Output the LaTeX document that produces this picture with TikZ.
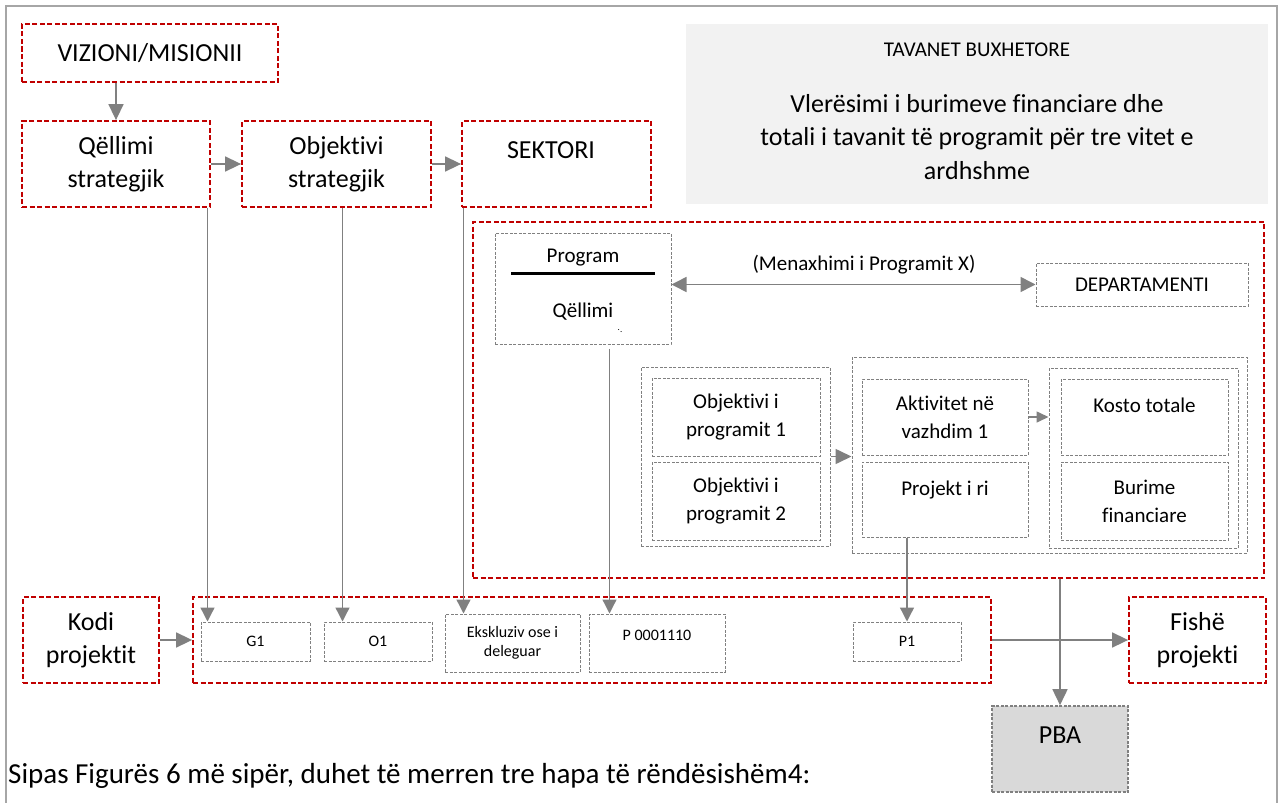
\documentclass[tikz,border=0pt]{standalone}
\usepackage{fontspec}
\setmainfont{Carlito}[Ligatures={NoCommon}]
\usepackage{xcolor}
\usetikzlibrary{positioning, arrows.meta, calc}

\definecolor{kuq}{HTML}{C00000}
\definecolor{gri}{HTML}{808080}
\definecolor{korniza}{HTML}{A6A6A6}
\definecolor{tavan}{HTML}{F2F2F2}
\definecolor{pbangjyre}{HTML}{D9D9D9}

\tikzset{
  kuqbox/.style={draw=kuq, line width=1.8pt, dash pattern=on 5pt off 2.5pt, inner sep=0pt, align=center, font=\fontsize{26}{33}\selectfont},
  gribox/.style={draw=gri, line width=1pt, dash pattern=on 3pt off 1.5pt, inner sep=0pt, align=center, font=\fontsize{21}{28}\selectfont},
  tekst/.style={inner sep=0pt, align=center, font=\fontsize{21}{28}\selectfont},
  madh/.style={font=\fontsize{26}{33.5}\selectfont},
  vogel/.style={font=\fontsize{16}{19}\selectfont},
  shig/.style={draw=gri, line width=1.6pt, -{Triangle[length=16pt,width=15pt]}},
  vije/.style={draw=gri, line width=1.3pt, -{Triangle[length=14pt,width=14pt]}},
}

\begin{document}
\begin{tikzpicture}[x=1pt, y=-1pt]
    \useasboundingbox (0,0) rectangle (1283,803);
    \draw[korniza, line width=2pt] (6,803) -- (6,6) -- (1277,6) -- (1277,803);

    \node[kuqbox, minimum width=256, minimum height=58] (vizioni) at (150,53) {VIZIONI/MISIONII};
    \node[kuqbox, minimum width=188, minimum height=86] (qellimi) at (116,164) {Qëllimi\\strategjik};
    \node[kuqbox, minimum width=189, minimum height=86] (objstr) at (336.5,164) {Objektivi\\strategjik};
    \node[kuqbox, minimum width=189, minimum height=86] (sektori) at (556.5,164) {};
    \node[tekst, madh] (sektorit) at (551,150) {SEKTORI};

    \node[fill=tavan, minimum width=582, minimum height=180] (tavanet) at (977,114) {};
    \node[tekst] (tavanett) at (977,50) {TAVANET BUXHETORE};
    \node[tekst, madh] (vleresimi) at (977,137) {Vlerësimi i burimeve financiare dhe\\totali i tavanit të programit për tre vitet e\\ardhshme};

    \node[kuqbox, minimum width=791, minimum height=356] (programi) at (868.5,400) {};
    \node[gribox, minimum width=176, minimum height=111] (prog) at (583,288.5) {};
    \node[tekst] (progt) at (583,258) {Program};
    \draw[line width=3pt] (511,273) -- (655,273);
    \node[tekst] (progq) at (583,312) {Qëllimi};
    \node[inner sep=0pt, font=\fontsize{9}{9}\selectfont] (pikat) at (620,331) {\raisebox{2pt}{.}.};
    \node[gribox, minimum width=212, minimum height=43] (dep) at (1142,284.5) {DEPARTAMENTI};
    \node[tekst] (menaxhimi) at (864,265) {(Menaxhimi i Programit X)};

    \node[gribox, minimum width=189, minimum height=179] (objgrp) at (735.5,456.5) {};
    \node[gribox, minimum width=168, minimum height=78] (obj1) at (736,417) {Objektivi i\\programit 1};
    \node[gribox, minimum width=168, minimum height=78] (obj2) at (736,501) {Objektivi i\\programit 2};
    \node[gribox, minimum width=395, minimum height=196] (midgrp) at (1049.5,455) {};
    \node[gribox, minimum width=166, minimum height=76] (akt) at (945,417) {Aktivitet në\\vazhdim 1};
    \node[gribox, minimum width=166, minimum height=75] (proj) at (945,499.5) {};
    \node[tekst] (projt) at (945,490) {Projekt i ri};
    \node[gribox, minimum width=189, minimum height=180] (rgrp) at (1143.5,458) {};
    \node[gribox, minimum width=167, minimum height=76] (kosto) at (1144.5,417) {};
    \node[tekst] (kostot) at (1144.5,405) {Kosto totale};
    \node[gribox, minimum width=167, minimum height=78] (burime) at (1144.5,501) {Burime\\financiare};

    \node[kuqbox, minimum width=136, minimum height=86] (kodi) at (91,640) {Kodi\\projektit};
    \node[kuqbox, minimum width=798, minimum height=86] (kodet) at (592,640) {};
    \node[gribox, vogel, minimum width=109, minimum height=39] (g1) at (255.5,641.5) {G1};
    \node[gribox, vogel, minimum width=108, minimum height=39] (o1) at (378,641.5) {O1};
    \node[gribox, vogel, minimum width=135, minimum height=58] (ekskl) at (512.5,643) {Ekskluziv ose i\\deleguar};
    \node[gribox, minimum width=136, minimum height=58] (pkod) at (657,643) {};
    \node[tekst, vogel] (pkodt) at (657,635) {P 0001110};
    \node[gribox, vogel, minimum width=108, minimum height=39] (p1) at (907,641.5) {P1};
    \node[kuqbox, minimum width=137, minimum height=86] (fishe) at (1197.5,640) {Fishë\\projekti};
    \node[gribox, draw=gri, line width=1.6pt, fill=pbangjyre, minimum width=136, minimum height=86] (pba) at (1060,749) {};
    \node[tekst, madh] (pbat) at (1060,735) {PBA};

    \node[inner sep=0pt, anchor=base west, font=\fontsize{29}{34}\selectfont] (sipas) at (8,783) {Sipas Figurës 6 më sipër, duhet të merren tre hapa të rëndësishëm4:};

    \coordinate (g1hyrje) at ($(g1.north west)+(7,0)$);
    \coordinate (o1hyrje) at ($(o1.north west)+(19,0)$);
    \coordinate (ekshyrje) at ($(ekskl.north west)+(19,0)$);
    \coordinate (pkodhyrje) at ($(pkod.north west)+(21,0)$);

    \draw[shig] (vizioni.south -| qellimi.north) -- (qellimi.north);
    \draw[shig] (qellimi.east) -- (objstr.west);
    \draw[shig] (objstr.east) -- (sektori.west);
    \draw[vije] (qellimi.south -| g1hyrje) -- (g1hyrje);
    \draw[vije] (objstr.south -| o1hyrje) -- (o1hyrje);
    \draw[vije] (sektori.south -| ekshyrje) -- (ekshyrje);
    \draw[vije] ($(prog.south -| pkodhyrje)+(0,4)$) -- (pkodhyrje);
    \draw[vije] (proj.south -| p1.north) -- (p1.north);
    \draw[shig, {Triangle[length=15pt,width=15pt]}-{Triangle[length=15pt,width=15pt]}] (prog.east |- dep.west) -- (dep.west);
    \draw[shig] (objgrp.east) -- (objgrp.east -| midgrp.west);
    \draw[shig, -{Triangle[length=12pt,width=11pt]}] (akt.east) -- (akt.east -| rgrp.west);
    \draw[shig] (kodi.east) -- (kodet.west);
    \draw[shig] (kodet.east) -- (fishe.west);
    \draw[shig] (programi.south -| pba.north) -- (pba.north);
\end{tikzpicture}
\end{document}
